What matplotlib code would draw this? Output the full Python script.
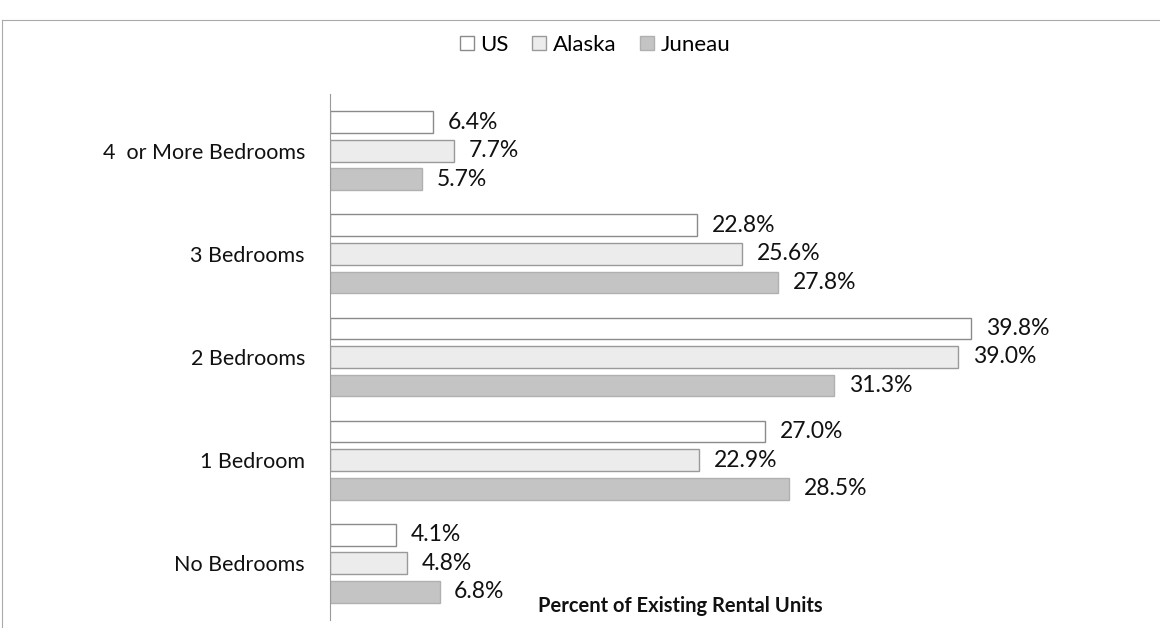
import numpy as np
import matplotlib.pyplot as plt
from matplotlib.lines import Line2D

categories = ["No Bedrooms", "1 Bedroom", "2 Bedrooms", "3 Bedrooms", "4  or More Bedrooms"]
series_names = ["US", "Alaska", "Juneau"]
us = [4.1, 27.0, 39.8, 22.8, 6.4]
alaska = [4.8, 22.9, 39.0, 25.6, 7.7]
juneau = [6.8, 28.5, 31.3, 27.8, 5.7]

face_colors = ["#ffffff", "#ececec", "#c4c4c4"]
edge_colors = ["#8a8a8a", "#9a9a9a", "#b0b0b0"]

plt.rcParams['font.family'] = ['Lato', 'DejaVu Sans']

fig = plt.figure(figsize=(11.6, 6.28), dpi=100)
ax = fig.add_axes([330 / 1160, 1 - 620 / 628, 725 / 1160, (620 - 94) / 628])

y = np.arange(len(categories))
step = 0.277
height = 0.21
for i, (vals, fc, ec) in enumerate(zip([us, alaska, juneau], face_colors, edge_colors)):
    pos = y + step * (1 - i)
    ax.barh(pos, vals, height=height, color=fc, edgecolor=ec, linewidth=1.0)
    for p, v in zip(pos, vals):
        ax.text(v + 0.9, p, f"{v:.1f}%", va="center", ha="left", fontsize=16.5, color="#111111")

ax.set_xlim(0, 45)
ax.set_ylim(-0.55, 4.55)
ax.set_yticks(y)
ax.set_yticklabels(categories, fontsize=15.5, color="#111111")
ax.tick_params(axis="y", length=0, pad=18)
ax.set_xticks([])
for s in ["top", "right", "bottom"]:
    ax.spines[s].set_visible(False)
ax.spines["left"].set_color("#999999")

handles = [Line2D([0], [0], marker="s", linestyle="none", markersize=10,
                  markerfacecolor=fc, markeredgecolor=ec) for fc, ec in zip(face_colors, edge_colors)]
fig.legend(handles, series_names, loc="center", bbox_to_anchor=(593 / 1160, 1 - 45 / 628),
           ncol=3, frameon=False, fontsize=16, handletextpad=0.1, columnspacing=0.9,
           handlelength=1.0)

fig.text(680 / 1160, 1 - 606 / 628, "Percent of Existing Rental Units", ha="center", va="center",
         fontsize=14.5, fontweight="bold", color="#111111")

# thin frame around the chart area
fig.add_artist(Line2D([2 / 1160, 2 / 1160], [0, 1 - 20 / 628], color="#aaaaaa", linewidth=0.8))
fig.add_artist(Line2D([2 / 1160, 1], [1 - 20 / 628, 1 - 20 / 628], color="#aaaaaa", linewidth=0.8))

fig.savefig("out.png", dpi=100)
